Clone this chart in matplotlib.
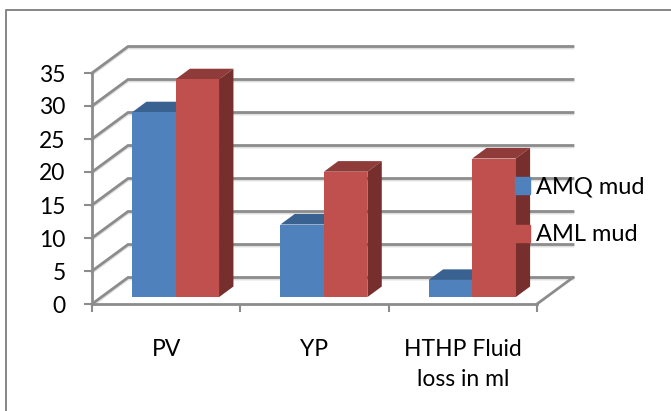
import matplotlib
matplotlib.use('Agg')
import matplotlib.pyplot as plt
from matplotlib.lines import Line2D
from matplotlib.patches import Patch, Polygon
import numpy as np

# Data
categories = ['PV', 'YP', 'HTHP Fluid\nloss in ml']
amq_mud = [28, 11, 2.6]
aml_mud = [33, 19, 21]
y_ticks = [0, 5, 10, 15, 20, 25, 30, 35]

# Colours of the 3D bars: front, top, side
blue = ('#4F81BD', '#3A6291', '#33557F')
red = ('#C0504D', '#8E3B39', '#772F2D')
grid = '#8C8C8C'
shadow = '#DEDEDE'

plt.rcParams['font.family'] = ['Lato', 'DejaVu Sans']

W, H = 671, 411
fig = plt.figure(figsize=(W / 100, H / 100), dpi=100)
ax = fig.add_axes([92 / W, (H - 304) / H, 445 / W, 231 / H])
ax.set_xlim(0, 3)
ax.set_ylim(0, 35)
ax.patch.set_alpha(0)

# oblique projection: how far the full chart depth shifts x and y (data units)
depth_x = 36 / 148.3
depth_y = 26.5 / 6.6


def proj(x, y, d):
    return x + d * depth_x, y + d * depth_y


# side wall and back wall gridlines
for v in y_ticks:
    x0, y0 = proj(0, v, 0)
    x1, y1 = proj(0, v, 1)
    x2, y2 = proj(3, v, 1)
    ax.plot([x0, x1, x2], [y0 - 0.25, y1 - 0.25, y2 - 0.25], color=shadow, lw=1.8,
            clip_on=False, zorder=1, solid_joinstyle='miter')
    ax.plot([x0, x1, x2], [y0, y1, y2], color=grid, lw=2.0,
            clip_on=False, zorder=2, solid_joinstyle='miter')

# floor edge on the right
x1, y1 = proj(3, 0, 1)
ax.plot([3, x1], [0, y1], color=grid, lw=2.0, clip_on=False, zorder=2)

# bars, drawn as front face + top + side
bar_w = 43.5 / 148.3
d_front, d_back = 0.26, 0.66


def draw_series(values, offset, cols, z):
    centers = np.arange(len(values)) + 0.5 + offset
    fx, fy = proj(centers, 0, d_front)
    ax.bar(fx, values, bar_w, bottom=fy, color=cols[0], zorder=z + 0.2, clip_on=False)
    for c, v in zip(centers, values):
        l, r = c - bar_w / 2, c + bar_w / 2
        top = [proj(l, v, d_front), proj(r, v, d_front), proj(r, v, d_back), proj(l, v, d_back)]
        side = [proj(r, 0, d_front), proj(r, v, d_front), proj(r, v, d_back), proj(r, 0, d_back)]
        ax.add_patch(Polygon(top, color=cols[1], lw=0, zorder=z, clip_on=False))
        ax.add_patch(Polygon(side, color=cols[2], lw=0, zorder=z, clip_on=False))


draw_series(amq_mud, -bar_w / 2, blue, 3)
draw_series(aml_mud, bar_w / 2, red, 4)

# axes
for s in ['top', 'right']:
    ax.spines[s].set_visible(False)
for s in ['left', 'bottom']:
    ax.spines[s].set_color(grid)
    ax.spines[s].set_linewidth(2.0)
    ax.spines[s].set_zorder(6)
ax.set_yticks(y_ticks)
ax.tick_params(axis='y', colors=grid, labelcolor='black', labelsize=16.5, length=6, width=1.5, pad=13)
ax.set_xticks([0, 1, 2, 3])
ax.set_xticklabels([])
ax.tick_params(axis='x', which='major', color=grid, length=6, width=1.5)
ax.set_xticks([0.5, 1.5, 2.5], minor=True)
ax.set_xticklabels(categories, minor=True, fontsize=16.5, linespacing=1.5)
ax.tick_params(axis='x', which='minor', length=0, pad=25.5, labelcolor='black')

# legend sits on top of the last bar
handles = [Patch(color=blue[0], label='AMQ mud'), Patch(color=red[0], label='AML mud')]
leg = ax.legend(handles=handles, loc='upper left', bbox_to_anchor=(0.95, 0.55),
                frameon=False, fontsize=17, handlelength=0.64, handleheight=0.75,
                handletextpad=0.27, labelspacing=1.12, borderpad=0, borderaxespad=0)
leg.set_zorder(10)

# chart area frame: only the top and left edges are inside the picture
fig.add_artist(Line2D([6 / W, 6 / W, 1], [0, 1 - 10 / H, 1 - 10 / H], color='#868686', lw=1.4,
                      transform=fig.transFigure))

fig.savefig('out.png', dpi=100)
